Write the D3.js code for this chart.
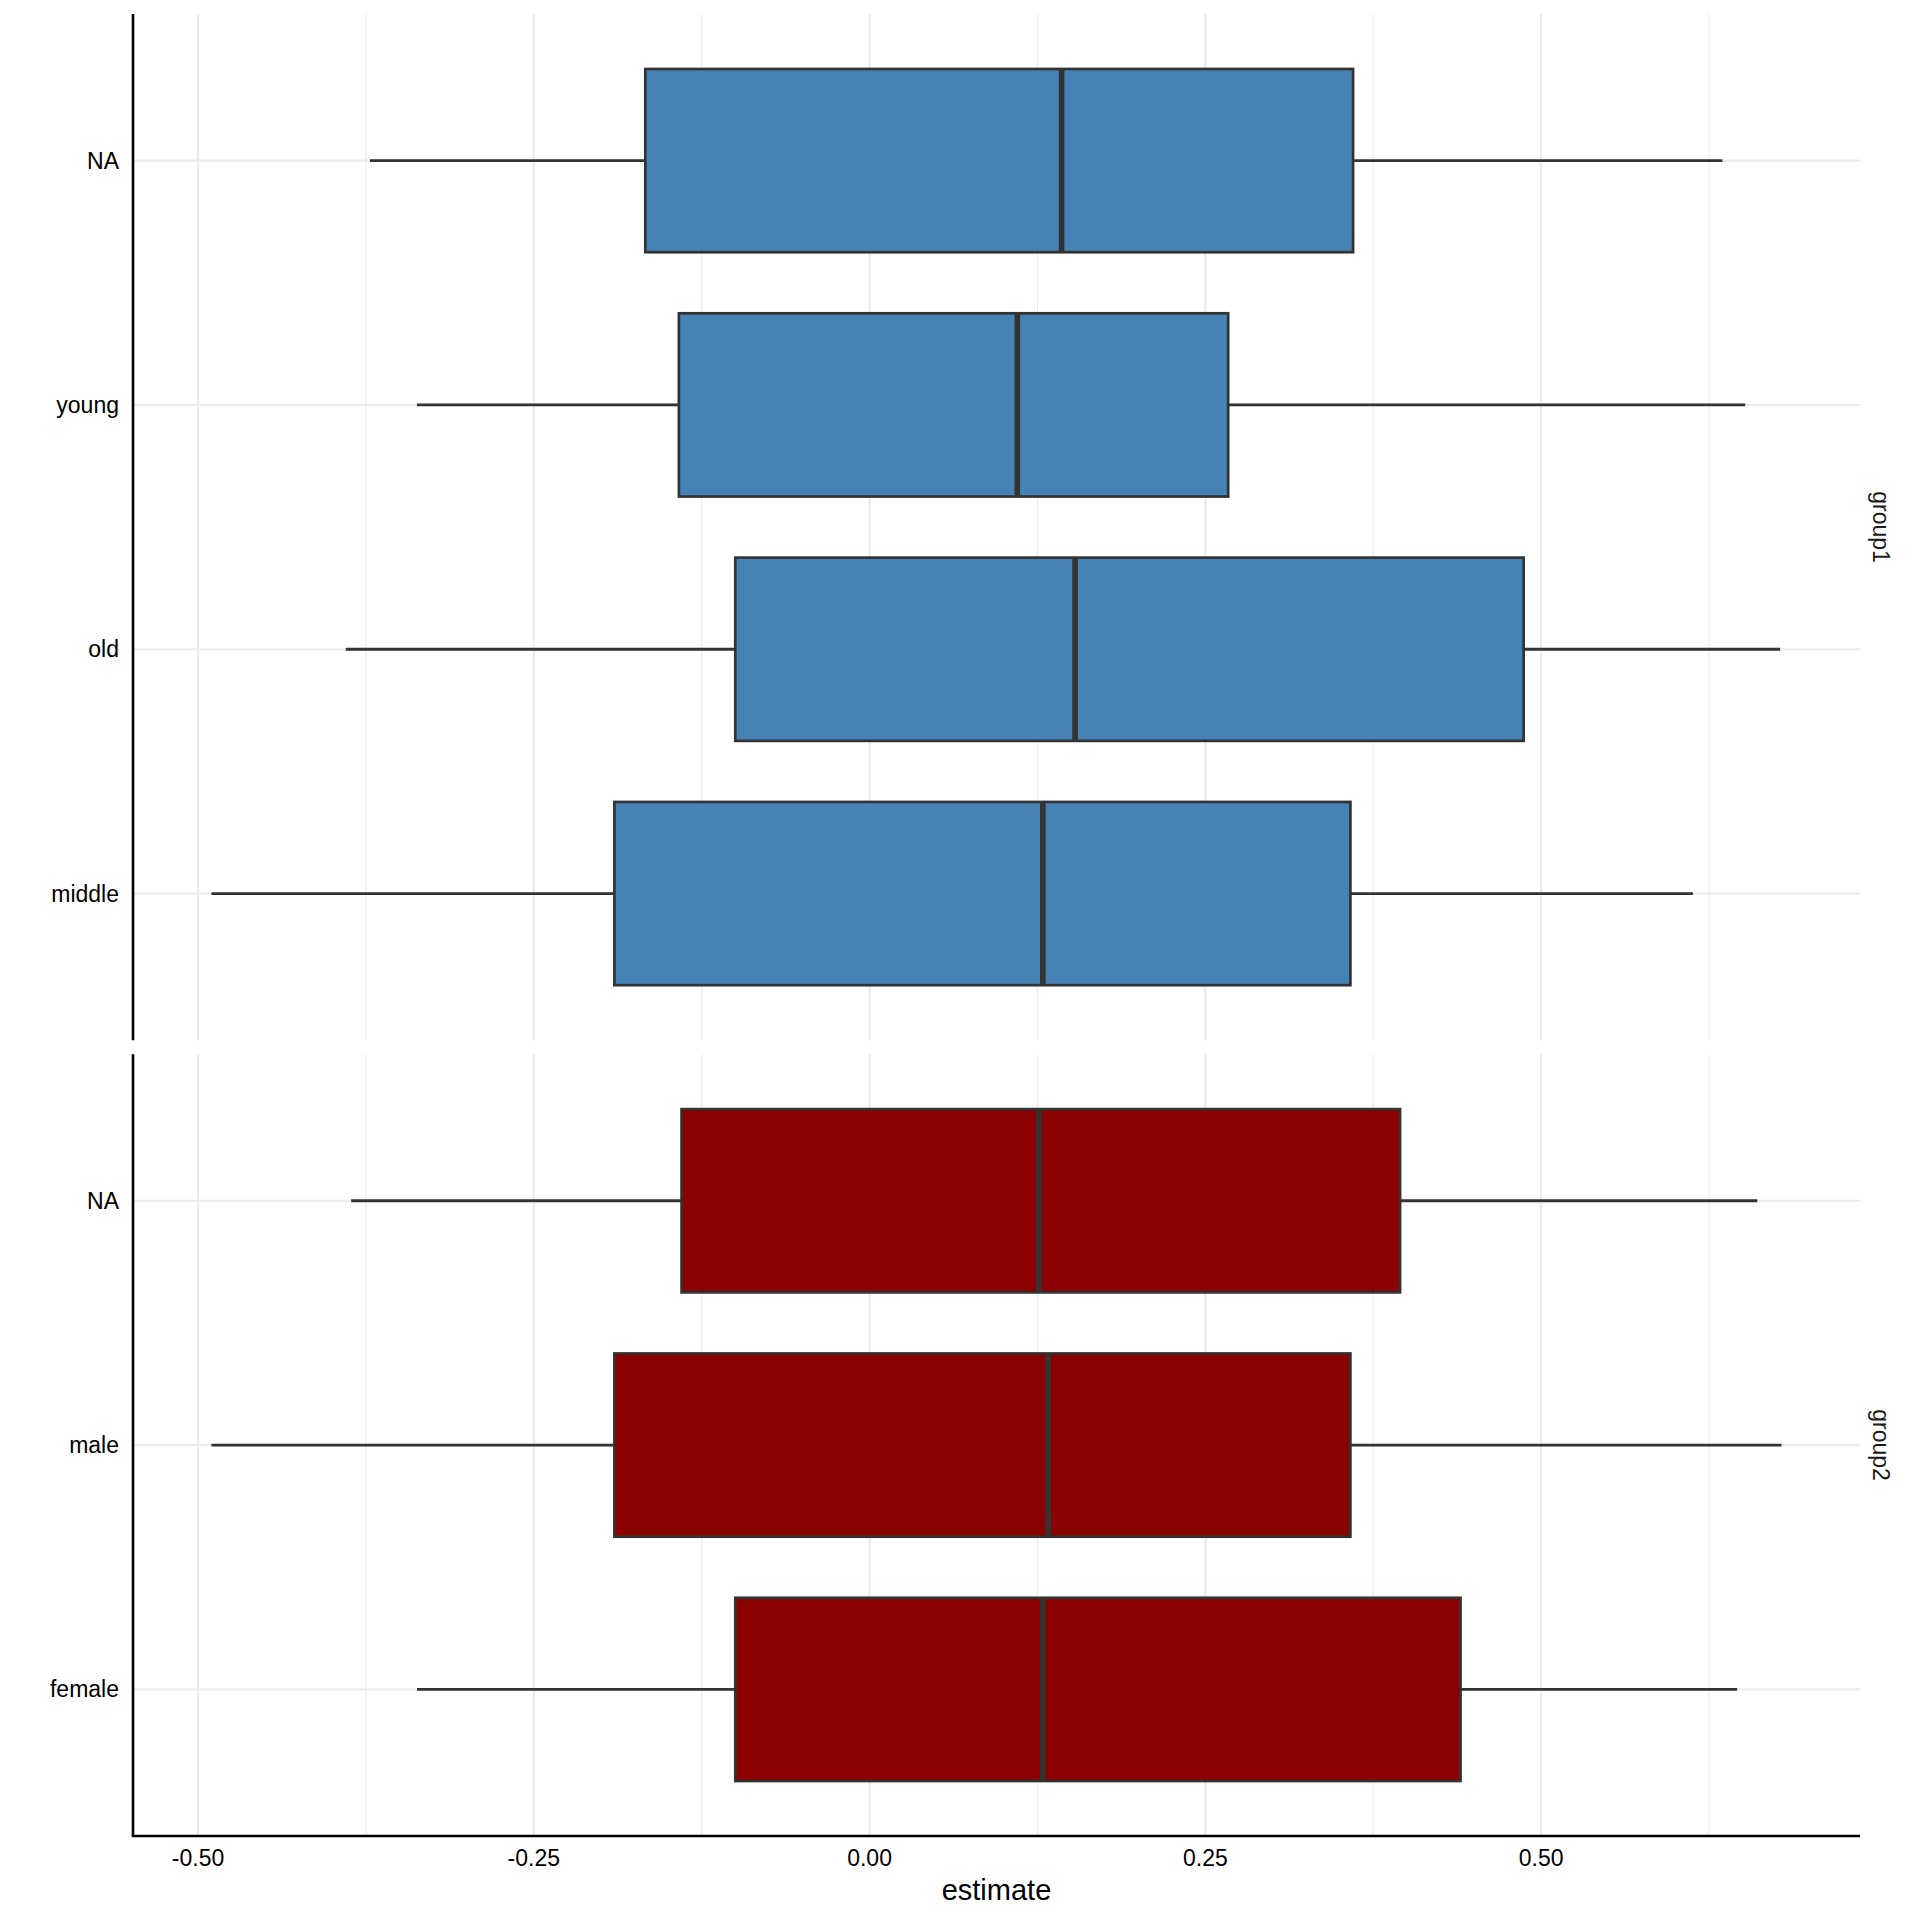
<!DOCTYPE html>
<html>
<head>
<meta charset="utf-8">
<script src="https://cdn.jsdelivr.net/npm/d3@7"></script>
<style>
  html, body { margin: 0; padding: 0; background: #ffffff; }
  svg { display: block; font-family: "Liberation Sans", Arial, Helvetica, sans-serif; }
</style>
</head>
<body>
<script>
// ---- data ----
const xTicks = [-0.50, -0.25, 0.00, 0.25, 0.50];
const xTickLabels = ["-0.50", "-0.25", "0.00", "0.25", "0.50"];
const xMinor = [-0.375, -0.125, 0.125, 0.375, 0.625];

const group1Categories = ["middle", "old", "young", "NA"];   // bottom to top
const group1Low    = [-0.490, -0.390, -0.337, -0.372];
const group1Q1     = [-0.190, -0.100, -0.142, -0.167];
const group1Median = [ 0.129,  0.153,  0.110,  0.143];
const group1Q3     = [ 0.358,  0.487,  0.267,  0.360];
const group1High   = [ 0.613,  0.678,  0.652,  0.635];

const group2Categories = ["female", "male", "NA"];            // bottom to top
const group2Low    = [-0.337, -0.490, -0.386];
const group2Q1     = [-0.100, -0.190, -0.140];
const group2Median = [ 0.129,  0.133,  0.126];
const group2Q3     = [ 0.440,  0.358,  0.395];
const group2High   = [ 0.646,  0.679,  0.661];

const panelNames = ["group1", "group2"];
const panelColors = ["#4682B4", "#8B0000"];

// ---- layout ----
const W = 1920, H = 1920;
const plotLeft = 133, plotRight = 1860;
const plotTop = 14, plotBottom = 1836, panelGap = 14;

const svg = d3.select("body").append("svg").attr("width", W).attr("height", H);

const allVals = [].concat(group1Low, group1High, group2Low, group2High);
const dmin = d3.min(allVals), dmax = d3.max(allVals);
const pad = (dmax - dmin) * 0.05;
const x = d3.scaleLinear().domain([dmin - pad, dmax + pad]).range([plotLeft, plotRight]);

const panels = [
  {name: panelNames[0], color: panelColors[0], cats: group1Categories,
   lo: group1Low, q1: group1Q1, med: group1Median, q3: group1Q3, hi: group1High},
  {name: panelNames[1], color: panelColors[1], cats: group2Categories,
   lo: group2Low, q1: group2Q1, med: group2Median, q3: group2Q3, hi: group2High}
];

// free space: each panel height proportional to (n - 1 + 1.2)
const units = panels.map(p => p.cats.length - 1 + 1.2);
const totalUnits = d3.sum(units);
const step = (plotBottom - plotTop - panelGap) / totalUnits;

let yCursor = plotTop;
panels.forEach((p, pi) => {
  const h = units[pi] * step;
  const y0 = yCursor, y1 = yCursor + h;
  yCursor = y1 + panelGap;
  const y = d3.scalePoint().domain(p.cats).range([y1, y0]).padding(0.6);
  const bw = y.step() * 0.75;

  const g = svg.append("g");

  g.selectAll(".minor").data(xMinor.filter(v => x(v) >= plotLeft && x(v) <= plotRight)).enter()
    .append("line")
    .attr("x1", d => x(d)).attr("x2", d => x(d))
    .attr("y1", y0).attr("y2", y1)
    .attr("stroke", "#EBEBEB").attr("stroke-width", 1.1);
  g.selectAll(".major").data(xTicks).enter()
    .append("line")
    .attr("x1", d => x(d)).attr("x2", d => x(d))
    .attr("y1", y0).attr("y2", y1)
    .attr("stroke", "#EBEBEB").attr("stroke-width", 2.2);
  g.selectAll(".hmajor").data(p.cats).enter()
    .append("line")
    .attr("x1", plotLeft).attr("x2", plotRight)
    .attr("y1", d => y(d)).attr("y2", d => y(d))
    .attr("stroke", "#EBEBEB").attr("stroke-width", 2.2);

  const items = p.cats.map((c, i) => ({c, lo: p.lo[i], q1: p.q1[i], med: p.med[i], q3: p.q3[i], hi: p.hi[i]}));

  g.selectAll(".wl").data(items).enter().append("line")
    .attr("x1", d => x(d.lo)).attr("x2", d => x(d.q1))
    .attr("y1", d => y(d.c)).attr("y2", d => y(d.c))
    .attr("stroke", "#333333").attr("stroke-width", 2.8);
  g.selectAll(".wh").data(items).enter().append("line")
    .attr("x1", d => x(d.q3)).attr("x2", d => x(d.hi))
    .attr("y1", d => y(d.c)).attr("y2", d => y(d.c))
    .attr("stroke", "#333333").attr("stroke-width", 2.8);
  g.selectAll(".box").data(items).enter().append("rect")
    .attr("x", d => x(d.q1)).attr("width", d => x(d.q3) - x(d.q1))
    .attr("y", d => y(d.c) - bw / 2).attr("height", bw)
    .attr("fill", p.color).attr("stroke", "#333333").attr("stroke-width", 2.7);
  g.selectAll(".med").data(items).enter().append("line")
    .attr("x1", d => x(d.med)).attr("x2", d => x(d.med))
    .attr("y1", d => y(d.c) - bw / 2).attr("y2", d => y(d.c) + bw / 2)
    .attr("stroke", "#333333").attr("stroke-width", 5.6);

  g.append("line").attr("x1", plotLeft).attr("x2", plotLeft).attr("y1", y0).attr("y2", y1)
    .attr("stroke", "#000").attr("stroke-width", 2.6);
  g.selectAll(".yl").data(p.cats).enter().append("text")
    .attr("x", plotLeft - 14).attr("y", d => y(d))
    .attr("text-anchor", "end").attr("dominant-baseline", "central")
    .attr("font-size", 23).attr("fill", "#000")
    .text(d => d);
  g.append("text")
    .attr("transform", `translate(1881,${(y0 + y1) / 2}) rotate(90)`)
    .attr("text-anchor", "middle").attr("dominant-baseline", "central")
    .attr("font-size", 23).attr("fill", "#1a1a1a")
    .text(p.name);
});

svg.append("line").attr("x1", plotLeft - 1.3).attr("x2", plotRight).attr("y1", plotBottom).attr("y2", plotBottom)
  .attr("stroke", "#000").attr("stroke-width", 2.6);
svg.selectAll(".xl").data(xTicks).enter().append("text")
  .attr("x", d => x(d)).attr("y", plotBottom + 22)
  .attr("text-anchor", "middle").attr("dominant-baseline", "central")
  .attr("font-size", 23).attr("fill", "#000")
  .text((d, i) => xTickLabels[i]);
svg.append("text")
  .attr("x", (plotLeft + plotRight) / 2).attr("y", 1890)
  .attr("text-anchor", "middle").attr("dominant-baseline", "central")
  .attr("font-size", 29).attr("fill", "#000")
  .text("estimate");
</script>
</body>
</html>
